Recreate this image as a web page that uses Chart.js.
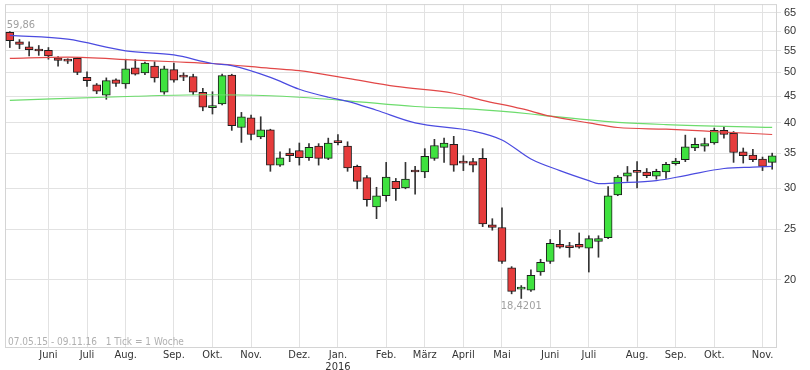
<!DOCTYPE html>
<html>
<head>
<meta charset="utf-8">
<script src="https://cdn.jsdelivr.net/npm/chart.js@4.4.0/dist/chart.umd.min.js"></script>
<style>
  html, body { margin: 0; padding: 0; background: #fff; }
</style>
</head>
<body>
<canvas id="chart" width="810" height="370"></canvas>
<script>
// weekly candles 07.05.15 - 09.11.16
const startMonday = new Date(2015, 4, 4);
const monthNames = ["Jan.", "Feb.", "März", "April", "Mai", "Juni", "Juli", "Aug.", "Sep.", "Okt.", "Nov.", "Dez."];

const opens = [59.7, 57.2, 56.0, 55.0, 55.1, 53.3, 52.6, 53.2, 48.9, 47.3,
  45.2, 48.4, 47.5, 51.0, 49.9, 51.4, 45.8, 50.6, 49.0, 49.1,
  45.8, 42.8, 43.5, 49.4, 39.2, 40.9, 37.6, 38.8, 33.2, 35.0,
  35.4, 34.3, 36.1, 34.2, 36.7, 36.1, 33.0, 31.4, 27.6, 29.0,
  30.9, 30.0, 32.4, 32.2, 34.2, 35.9, 36.4, 33.6, 33.7, 34.2,
  25.5, 25.2, 21.1, 19.2, 19.1, 20.7, 21.7, 23.4, 23.1, 23.4,
  23.0, 23.7, 24.1, 29.1, 31.6, 32.2, 32.2, 31.6, 32.2, 33.4,
  34.0, 35.8, 36.1, 36.6, 38.7, 38.2, 35.2, 34.7, 34.1, 33.6];
const highs = [59.86, 57.8, 57.2, 56.3, 55.8, 53.6, 53.1, 53.4, 50.1, 47.6,
  48.8, 48.6, 53.0, 52.9, 52.3, 52.4, 51.4, 52.1, 49.9, 49.6,
  46.6, 45.9, 49.6, 49.6, 41.9, 41.4, 41.1, 38.9, 35.2, 35.7,
  36.6, 36.5, 36.5, 37.4, 38.0, 36.8, 33.2, 31.7, 30.1, 33.6,
  31.3, 33.6, 33.0, 35.7, 37.2, 37.4, 37.7, 34.6, 34.2, 35.7,
  26.2, 27.5, 21.2, 19.5, 20.9, 21.9, 23.9, 24.9, 23.6, 24.6,
  24.3, 24.3, 30.2, 31.7, 33.0, 33.7, 32.7, 32.6, 33.6, 34.2,
  37.9, 37.4, 37.4, 39.1, 39.3, 38.5, 35.8, 35.6, 34.4, 35.0];
const lows = [55.8, 55.5, 53.8, 53.9, 53.0, 51.4, 52.0, 49.5, 47.0, 45.5,
  44.4, 47.0, 46.6, 49.4, 49.5, 47.9, 45.4, 47.9, 48.2, 45.3,
  42.2, 41.6, 43.3, 38.7, 36.7, 37.1, 37.3, 32.3, 33.0, 33.7,
  33.2, 33.9, 33.2, 34.0, 36.3, 32.3, 29.9, 27.7, 26.2, 28.3,
  28.4, 29.9, 29.2, 31.4, 33.9, 33.6, 32.3, 32.4, 32.2, 25.3,
  24.9, 21.5, 18.8, 18.4201, 19.0, 20.4, 21.5, 23.0, 22.1, 23.0,
  20.7, 22.1, 24.0, 29.0, 30.9, 30.0, 31.4, 31.2, 31.3, 33.2,
  33.7, 35.4, 35.3, 36.4, 37.4, 33.6, 33.5, 33.7, 32.4, 32.6];
const closes = [57.5, 56.6, 55.3, 54.95, 53.8, 52.7, 52.55, 50.0, 48.2, 46.0,
  48.2, 47.6, 50.8, 49.6, 52.1, 48.8, 50.8, 48.3, 48.95, 45.8,
  42.9, 43.1, 49.3, 39.5, 41.1, 38.0, 38.8, 33.2, 34.3, 34.6,
  34.3, 35.9, 34.2, 36.6, 36.65, 32.8, 30.9, 28.5, 29.0, 31.5,
  29.9, 31.2, 32.2, 34.5, 36.2, 36.6, 33.2, 33.5, 33.2, 25.6,
  25.2, 21.7, 19.0, 19.25, 20.4, 21.6, 23.5, 23.1, 23.05, 23.1,
  24.0, 24.0, 29.0, 31.5, 32.1, 32.15, 31.7, 32.3, 33.3, 33.8,
  36.0, 36.4, 36.5, 38.7, 38.0, 35.1, 34.6, 34.0, 33.0, 34.6];

// moving averages, read at some weeks
const blueWeeks = [0, 6, 12, 17, 21, 23, 27, 30, 33, 35, 38, 42, 48, 51, 54, 57, 60, 61, 63, 67, 70, 74, 77, 79];
const blueVals = [58.9, 57.9, 55.0, 54.0, 52.0, 51.5, 48.9, 46.4, 44.8, 44.0, 42.3, 40.0, 38.6, 37.1, 34.1, 32.4, 31.0, 30.6, 30.7, 31.0, 31.7, 32.7, 32.9, 33.0];
const redWeeks = [0, 6, 13, 17, 21, 27, 30, 35, 40, 46, 49, 53, 56, 60, 63, 68, 73, 79];
const redVals = [53.2, 53.5, 52.8, 52.4, 52.0, 50.9, 50.4, 48.7, 47.0, 45.6, 44.2, 42.6, 41.2, 40.0, 39.2, 38.9, 38.5, 38.0];
const greenWeeks = [0, 13, 20, 27, 30, 35, 42, 48, 54, 56, 63, 68, 79];
const greenVals = [44.2, 45.0, 45.3, 45.1, 44.8, 44.1, 43.0, 42.5, 41.6, 41.2, 40.1, 39.7, 39.2];

const yTicks = [20, 25, 30, 35, 40, 45, 50, 55, 60, 65];

// week labels + month ticks
const weeks = [];
const tickLabels = [];
for (let k = 0; k < opens.length; k++) {
  const d = new Date(startMonday.getTime());
  d.setDate(d.getDate() + k * 7);
  const s = new Date(d.getTime());
  s.setDate(s.getDate() + 6);
  weeks.push(("0" + d.getDate()).slice(-2) + "." + ("0" + (d.getMonth() + 1)).slice(-2) + "." + String(d.getFullYear()).slice(-2));
  if (s.getDate() <= 7) {
    const m = monthNames[s.getMonth()];
    tickLabels.push(s.getMonth() === 0 ? [m, String(s.getFullYear())] : m);
  } else {
    tickLabels.push("");
  }
}

const narrow = "'DejaVu Sans Condensed', 'Liberation Sans Narrow', 'Liberation Sans', Arial, sans-serif";
const fmt = v => String(v).replace(".", ",");

const extras = {
  id: "extras",
  beforeDatasetsDraw(chart) {
    const { ctx, chartArea: a } = chart;
    ctx.save();
    ctx.strokeStyle = "#d4d4d4";
    ctx.lineWidth = 1;
    ctx.strokeRect(a.left + 0.5, a.top + 0.5, a.right - a.left - 1, a.bottom - a.top - 1);
    ctx.restore();
  },
  afterDatasetsDraw(chart) {
    const { ctx, chartArea: a, scales: { x, y } } = chart;
    ctx.save();
    ctx.fillStyle = "#a0a0a0";
    ctx.font = "11px " + narrow;
    const iMax = highs.indexOf(Math.max(...highs));
    const iMin = lows.indexOf(Math.min(...lows));
    ctx.textAlign = "left";
    ctx.textBaseline = "bottom";
    ctx.fillText(fmt(highs[iMax]), x.getPixelForValue(iMax) - 3, y.getPixelForValue(highs[iMax]) - 1);
    ctx.textAlign = "center";
    ctx.textBaseline = "top";
    ctx.fillText(fmt(lows[iMin]), x.getPixelForValue(iMin), y.getPixelForValue(lows[iMin]) + 2);
    ctx.textAlign = "left";
    ctx.textBaseline = "bottom";
    ctx.fillStyle = "#b0b0b0";
    ctx.font = "10px " + narrow;
    ctx.fillText("07.05.15 - 09.11.16   1 Tick = 1 Woche", a.left + 3, a.bottom - 1);
    ctx.restore();
  }
};

const maLine = (wk, vals, color) => ({
  type: "line",
  data: wk.map((k, j) => ({ x: weeks[k], y: vals[j] })),
  borderColor: color,
  borderWidth: 1.2,
  pointRadius: 0,
  cubicInterpolationMode: "monotone",
  order: 0
});

new Chart(document.getElementById("chart"), {
  type: "bar",
  data: {
    labels: weeks,
    datasets: [
      maLine(blueWeeks, blueVals, "#4b4be0"),
      maLine(redWeeks, redVals, "#e24848"),
      maLine(greenWeeks, greenVals, "#6ddc6d"),
      {
        data: opens.map((o, i) => [o, closes[i]]),
        backgroundColor: opens.map((o, i) => closes[i] >= o ? "#3fe23f" : "#e63c3c"),
        borderColor: "#1e1e1e",
        borderWidth: 1,
        borderSkipped: false,
        barThickness: 8,
        minBarLength: 2,
        grouped: false,
        order: 1
      },
      {
        data: lows.map((l, i) => [l, highs[i]]),
        backgroundColor: "#333",
        barThickness: 1,
        grouped: false,
        order: 2
      }
    ]
  },
  options: {
    responsive: false,
    animation: false,
    layout: { autoPadding: false, padding: { left: 5, top: 2, right: 0, bottom: 0 } },
    plugins: { legend: { display: false }, tooltip: { enabled: false } },
    scales: {
      x: {
        type: "category",
        offset: true,
        grid: {
          offset: false,
          drawTicks: false,
          color: ctx => tickLabels[ctx.index] ? "#e2e2e2" : "rgba(0,0,0,0)"
        },
        border: { display: false },
        ticks: {
          autoSkip: false,
          maxRotation: 0,
          padding: 1,
          color: "#333",
          font: { size: 11, family: narrow, lineHeight: 1.1 },
          callback: (v, i) => tickLabels[i]
        },
        afterFit: s => { s.height = 22; }
      },
      y: {
        type: "logarithmic",
        position: "right",
        min: 14.8,
        max: 67.6,
        afterBuildTicks: s => { s.ticks = yTicks.map(v => ({ value: v })); },
        afterFit: s => { s.width = 33; },
        grid: { color: "#e2e2e2", tickLength: 4 },
        border: { display: false },
        ticks: {
          color: "#333",
          padding: 3,
          font: { size: 11, lineHeight: 0.2, family: "'Liberation Sans', Arial, sans-serif" },
          callback: v => String(v)
        }
      }
    }
  },
  plugins: [extras]
});
</script>
</body>
</html>
